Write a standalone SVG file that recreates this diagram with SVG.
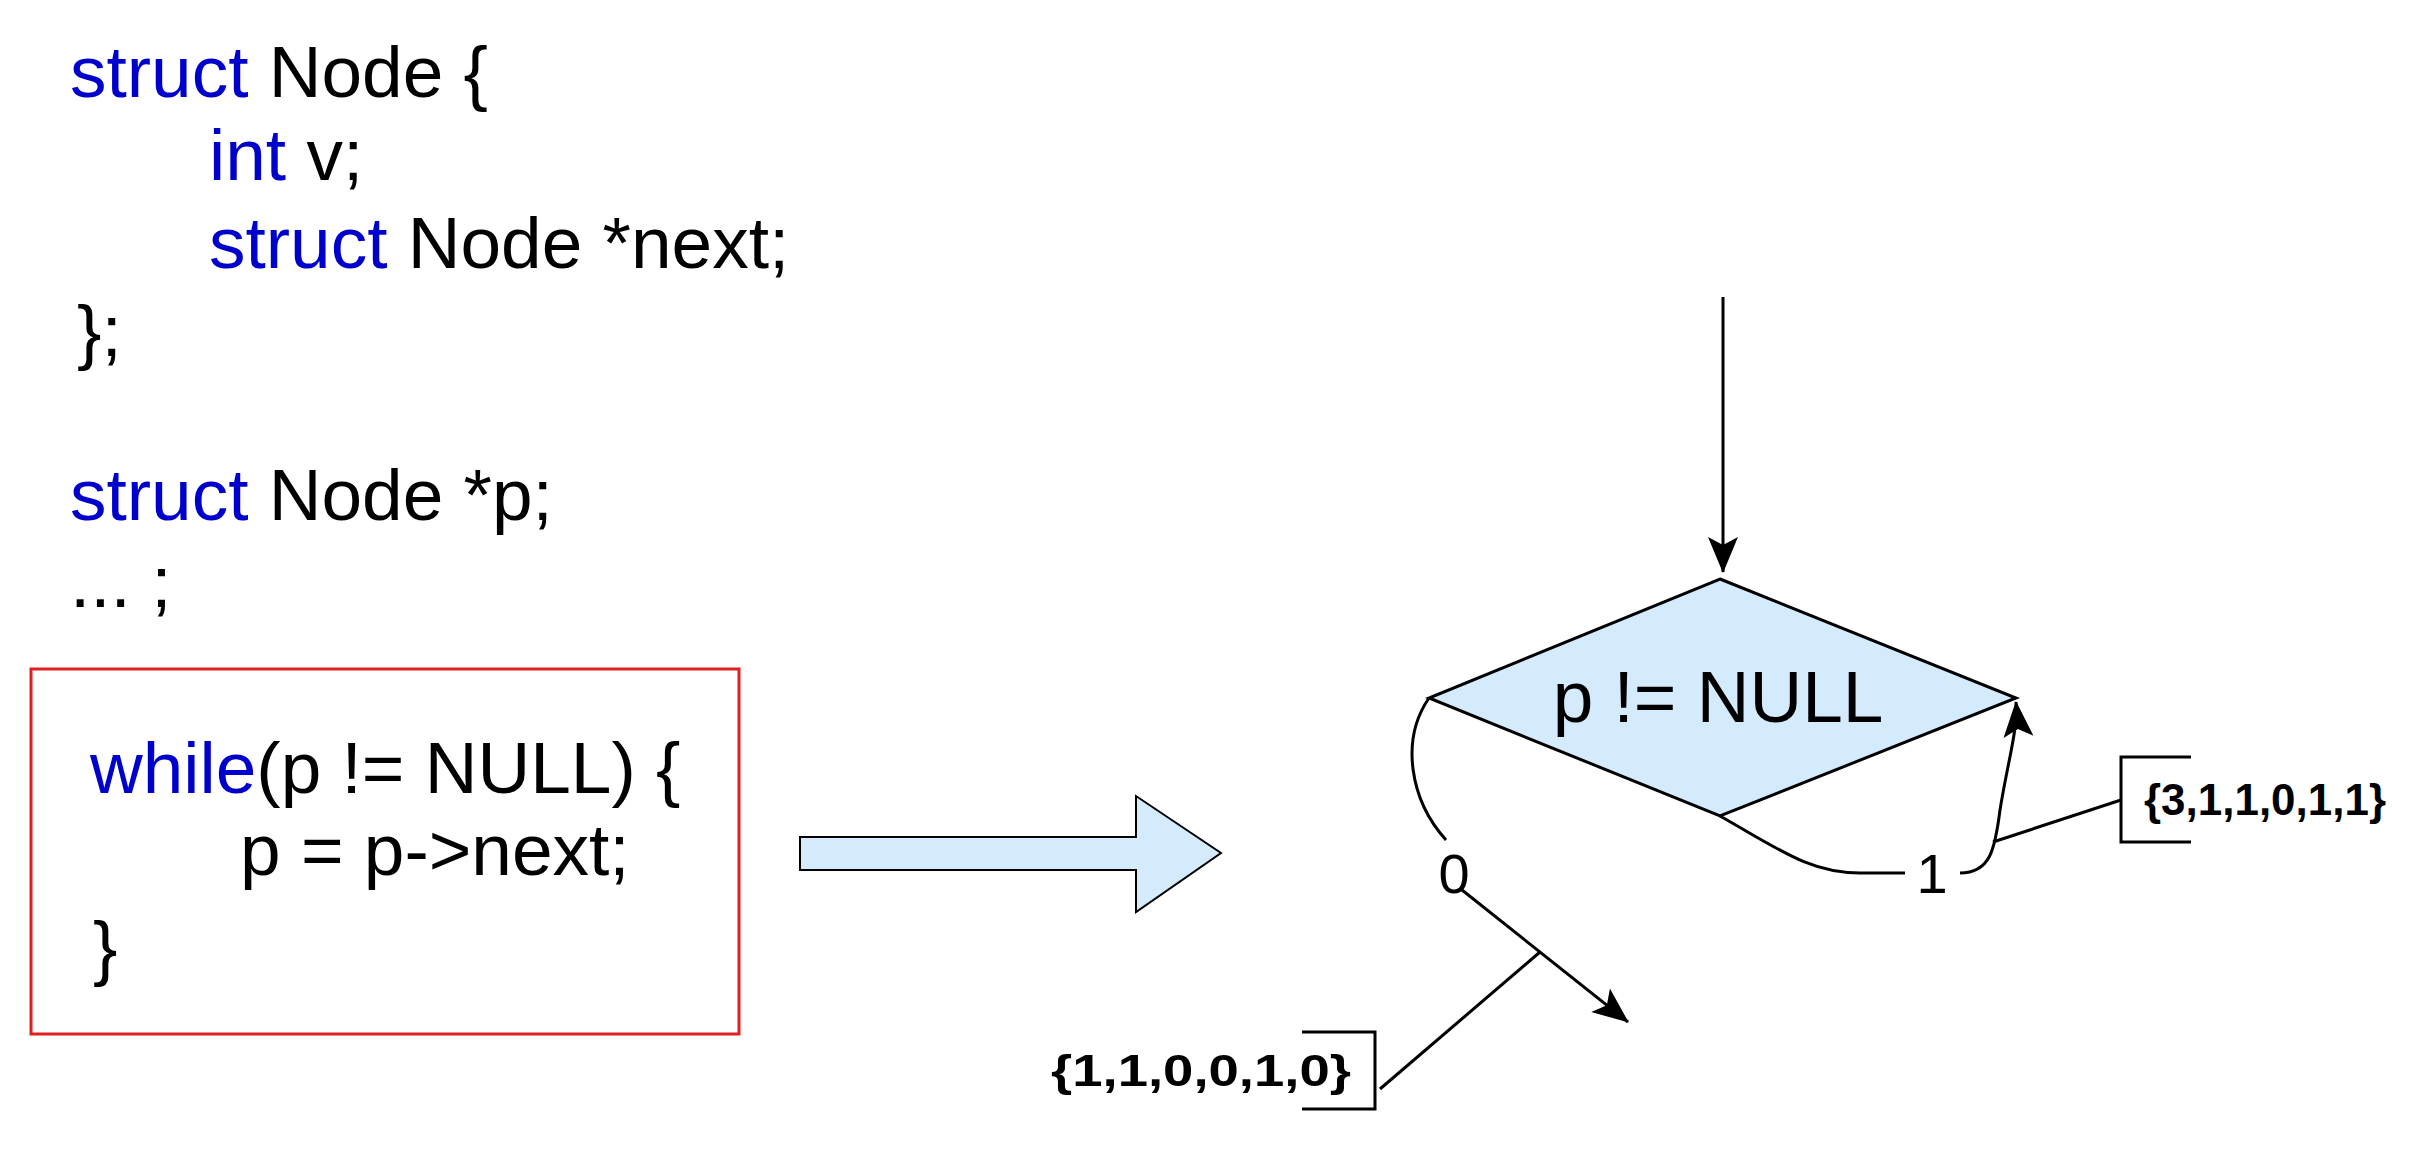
<svg xmlns="http://www.w3.org/2000/svg" width="2422" height="1149" viewBox="0 0 2422 1149">
<style>
.code{font-family:"Liberation Sans",Arial,sans-serif;font-size:73px;fill:#000}
.kw{fill:#0000CC}
.ln{fill:none;stroke:#000;stroke-width:3}
.lbl{font-family:"Liberation Sans",Arial,sans-serif;font-size:56px;fill:#000;text-anchor:middle}
.set{font-family:"Liberation Sans",Arial,sans-serif;font-size:44px;font-weight:bold;fill:#000}
</style>
<defs>
<marker id="ah" viewBox="0 0 10 10" refX="9" refY="5" markerWidth="10" markerHeight="10" markerUnits="userSpaceOnUse" orient="auto" overflow="visible">
<path d="M0,0 L36,15 L0,30 L8,15 Z" transform="translate(-26,-10)" fill="#000"/>
</marker>
</defs>
<rect width="2422" height="1149" fill="#fff"/>
<g id="code">
<text class="code" x="70" y="97"><tspan class="kw">struct</tspan> Node {</text>
<text class="code" x="209" y="180"><tspan class="kw">int</tspan> v;</text>
<text class="code" x="209" y="268"><tspan class="kw">struct</tspan> Node *next;</text>
<text class="code" x="77" y="356">};</text>
<text class="code" x="70" y="520"><tspan class="kw">struct</tspan> Node *p;</text>
<text class="code" x="70" y="607">... ;</text>
</g>
<g id="loop">
<rect x="31" y="669" width="708" height="365" fill="none" stroke="#E02020" stroke-width="3"/>
<text class="code" x="90" y="793"><tspan class="kw">while</tspan>(p != NULL) {</text>
<text class="code" x="240" y="875">p = p-&gt;next;</text>
<text class="code" x="93" y="972">}</text>
</g>
<g id="bigarrow">
<path d="M800,837 H1136 V796 L1221,853 L1136,912 V870 H800 Z" fill="#D4EAFD" stroke="#000" stroke-width="2"/>
</g>
<g id="decision">
<path d="M1720,579 L2016,698 L1720,816 L1429,698 Z" fill="#D4EAFD" stroke="#000" stroke-width="3"/>
<text class="code" x="1718" y="722" text-anchor="middle">p != NULL</text>
</g>
<g id="connectors">
<line class="ln" x1="1723" y1="297" x2="1723" y2="572" stroke-width="5" marker-end="url(#ah)"/>
<path class="ln" d="M1429,698 C1400,740 1410,800 1446,840"/>
<path class="ln" d="M1462,890 L1628,1022" marker-end="url(#ah)"/>
<path class="ln" d="M1720,816 C1780,850 1810,873 1860,873 H1905"/>
<path class="ln" d="M1960,873 C1990,873 1995,850 2000,810 C2008,760 2018,730 2016,702" marker-end="url(#ah)"/>
<text class="lbl" x="1454" y="893">0</text>
<text class="lbl" x="1932" y="893">1</text>
<line class="ln" x1="1540" y1="952" x2="1380" y2="1089"/>
<line class="ln" x1="1993" y1="842" x2="2121" y2="800"/>
</g>
<g id="set0">
<path class="ln" d="M1302,1032 H1375 V1109 H1302"/>
<text class="set" x="1051" y="1086" textLength="300" lengthAdjust="spacingAndGlyphs">{1,1,0,0,1,0}</text>
</g>
<g id="set1">
<path class="ln" d="M2191,757 H2121 V842 H2191"/>
<text class="set" x="2144" y="815" textLength="242" lengthAdjust="spacingAndGlyphs">{3,1,1,0,1,1}</text>
</g>
</svg>
